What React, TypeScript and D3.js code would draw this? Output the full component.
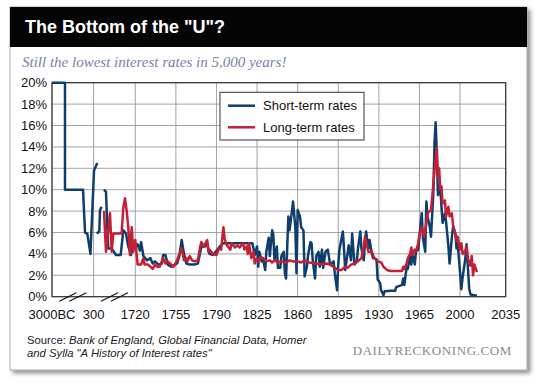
import React, { useEffect, useRef } from 'react';
import * as d3 from 'd3';

// [year, rate %] ; null rate = gap in the line
const shortTermRates: [number, number | null][] = [
  [-3000, 20], [-1970, 20], [-1970, 10], [-540, 10], [-380, 6], [-200, 5.9], [50, 4], [314, 11.8], [426, 12.5], [430, null],
  [405, 5.9], [494, 6.1], [518, 8.1], [576, 8.4], [600, null],
  [654, 10], [722, 9.8], [766, 6.5], [800, 4.5], [916, 4.5], [1063, 3.9], [1223, 3.9], [1311, 6.2], [1403, 5.9],
  [1481, 4.7], [1573, 3.9], [1652, 5], [1712, 5],
  [1720, 4.6], [1722, 4.9], [1724, 4.3], [1725, 5.1], [1727, 3.8], [1730, 3.4], [1733, 3.6], [1735, 3.1], [1737, 3.3],
  [1740, 3.0], [1743, 3.1], [1744, 3.9], [1746, 3.9], [1748, 3.0], [1751, 2.8], [1756, 3.1], [1758, 3.8], [1760, 5.3],
  [1762, 4.0], [1764, 3.1], [1767, 3.0], [1771, 3.0], [1774, 3.1], [1777, 4.7], [1780, 4.7], [1782, 5.0], [1784, 4.0],
  [1787, 3.9], [1790, 4.3], [1793, 4.7], [1796, 5.0], [1821, 5.0], [1823, 3.9], [1825, 4.7], [1826, 2.8], [1827, 4.2],
  [1829, 3.3], [1830, 3.6], [1832, 2.5], [1833, 4.2], [1835, 5.5], [1836, 3.8], [1838, 6.2], [1839, 5.8], [1840, 3.4],
  [1842, 4.7], [1843, 2.7], [1845, 2.7], [1846, 3.8], [1848, 4.2], [1849, 2.2], [1850, 1.7], [1852, 7.5], [1853, 6.2],
  [1855, 7.9], [1856, 8.9], [1858, 6.5], [1859, 2.2], [1860, 8.1], [1862, 7.5], [1863, 6.5], [1865, 6.2], [1866, 1.9],
  [1868, 2.8], [1869, 3.9], [1871, 5.1], [1872, 5.0], [1873, 3.4], [1875, 1.7], [1876, 3.8], [1878, 4.2], [1879, 2.8],
  [1881, 4.4], [1882, 2.7], [1884, 4.2], [1886, 4.4], [1888, 3.0], [1891, 3.3], [1892, 2.2], [1894, 0.6], [1895, 3.0],
  [1896, 4.4], [1899, 6.1], [1900, 4.4], [1901, 2.5], [1903, 4.0], [1904, 4.8], [1906, 3.4], [1907, 5.9], [1909, 3.0],
  [1911, 3.3], [1912, 4.5], [1914, 6.1], [1915, 4.5], [1917, 3.4], [1918, 5.0], [1919, 6.1], [1921, 4.5], [1922, 5.3],
  [1924, 4.0], [1925, 3.6], [1928, 3.5], [1929, 1.6], [1931, 1.3], [1932, 0.6], [1934, 0.15], [1935, 0.5], [1940, 0.55],
  [1944, 0.55], [1945, 0.9], [1950, 1.1], [1951, 1.7], [1952, 1.1], [1954, 2.8], [1955, 2.6], [1957, 3.8], [1958, 3.0],
  [1959, 4.0], [1961, 3.0], [1962, 4.2], [1964, 4.4], [1965, 5.6], [1967, 7.8], [1968, 5.5], [1970, 4.2], [1971, 8.9],
  [1972, 7.5], [1974, 6.5], [1975, 5.6], [1977, 9.7], [1978, 14.3], [1979, 16.3], [1980, 13.1], [1981, 9.5], [1983, 10.3],
  [1984, 8.4], [1985, 6.9], [1987, 7.8], [1988, 7.0], [1990, 4.7], [1991, 3.1], [1993, 5.6], [1994, 6.5], [1996, 5.9],
  [1997, 4.5], [1998, 5.0], [2000, 2.3], [2001, 0.7], [2002, 1.8], [2004, 3.5], [2005, 4.9], [2007, 0.8], [2008, 0.2],
  [2013, 0.1],
];

const longTermRates: [number, number | null][] = [
  [654, 8.0], [722, 4.2], [800, 6.2], [858, 7.8], [916, 4.2], [971, 5.9], [1255, 5.9], [1311, 8.3], [1369, 9.2],
  [1427, 8.0], [1481, 6.5], [1539, 3.9], [1597, 6.5], [1652, 4.2], [1710, 5.0],
  [1720, 5.3], [1722, 3.0], [1725, 3.0], [1727, 3.6], [1728, 3.0], [1731, 3.0], [1733, 2.8], [1735, 2.6], [1737, 3.0],
  [1739, 2.8], [1741, 2.8], [1744, 3.6], [1746, 3.1], [1748, 3.3], [1751, 3.0], [1753, 2.8], [1756, 3.4], [1758, 4.0],
  [1760, 4.5], [1762, 3.4], [1764, 3.6], [1765, 3.3], [1767, 3.8], [1769, 3.4], [1771, 3.3], [1774, 3.4], [1776, 4.7],
  [1777, 5.1], [1779, 4.7], [1782, 5.3], [1783, 4.2], [1784, 4.4], [1787, 4.0], [1790, 3.9], [1792, 4.5], [1794, 4.4],
  [1796, 6.5], [1797, 5.4], [1799, 4.8], [1802, 4.4], [1803, 5.0], [1806, 4.6], [1808, 4.8], [1810, 4.6], [1813, 5.0],
  [1814, 4.4], [1816, 4.7], [1817, 4.0], [1818, 5.0], [1820, 3.6], [1822, 4.2], [1823, 3.1], [1824, 3.5], [1826, 3.3],
  [1828, 3.7], [1830, 3.6], [1833, 3.3], [1836, 3.4], [1838, 3.2], [1840, 3.4], [1843, 3.2], [1846, 3.3], [1850, 3.2],
  [1853, 3.4], [1856, 3.3], [1860, 3.3], [1863, 3.2], [1866, 3.4], [1870, 3.2], [1875, 3.1], [1881, 3.0], [1885, 3.1],
  [1888, 3.0], [1892, 2.7], [1895, 2.5], [1898, 2.5], [1901, 2.8], [1903, 2.7], [1906, 3.0], [1909, 3.1], [1912, 3.3],
  [1915, 3.6], [1917, 4.7], [1918, 5.6], [1919, 5.1], [1921, 4.2], [1924, 4.2], [1926, 3.6], [1929, 3.3], [1932, 3.2],
  [1934, 2.8], [1937, 2.5], [1940, 2.4], [1944, 2.4], [1950, 2.4], [1951, 2.8], [1952, 2.6], [1954, 3.1], [1955, 3.6],
  [1957, 4.0], [1958, 4.6], [1959, 3.9], [1961, 4.4], [1962, 4.2], [1964, 5.0], [1965, 5.8], [1967, 6.5], [1969, 5.6],
  [1971, 6.9], [1972, 7.8], [1974, 8.0], [1975, 8.1], [1977, 10.5], [1978, 11.8], [1980, 13.9], [1981, 11.2],
  [1982, 12.0], [1983, 10.0], [1984, 10.3], [1985, 8.7], [1987, 9.0], [1988, 7.5], [1990, 8.4], [1991, 7.5], [1993, 7.8],
  [1994, 6.7], [1996, 5.9], [1997, 5.2], [1998, 5.6], [2000, 4.4], [2001, 5.0], [2002, 4.0], [2004, 4.3], [2005, 4.7],
  [2006, 3.6], [2008, 2.9], [2009, 3.8], [2010, 2.0], [2011, 3.0], [2013, 2.3],
];

const xTicks = [-3000, 300, 1720, 1755, 1790, 1825, 1860, 1895, 1930, 1965, 2000, 2035];
const xTickLabels = ['3000BC', '300', '1720', '1755', '1790', '1825', '1860', '1895', '1930', '1965', '2000', '2035'];
const yTicks = [0, 2, 4, 6, 8, 10, 12, 14, 16, 18, 20];
const seriesNames = ['Short-term rates', 'Long-term rates'];
const seriesColors = ['#0f3e6c', '#c41f35'];

const SANS = '"Liberation Sans", Arial, sans-serif';
const SERIF = '"Liberation Serif", "Times New Roman", serif';

function App() {
  const ref = useRef<SVGSVGElement>(null);

  useEffect(() => {
    const svg = d3.select(ref.current);
    svg.selectAll('*').remove();

    const left = 52, right = 505.7, top = 82.7, bottom = 296.7;
    const w = right - left;

    // broken axis: two compressed segments, then 35-year steps, last step a bit wider
    const x = d3.scaleLinear()
      .domain([-3000, 300, 1720, 2000, 2035])
      .range([left, left + w * 0.0917, left + w * 0.1836, left + w * 0.8993, right]);
    const y = d3.scaleLinear().domain([0, 20]).range([bottom, top]);

    const defs = svg.append('defs');
    const f = defs.append('filter').attr('id', 'shadow').attr('x', '-5%').attr('y', '-5%').attr('width', '110%').attr('height', '110%');
    f.append('feDropShadow').attr('dx', 3).attr('dy', 3).attr('stdDeviation', 2).attr('flood-color', '#000').attr('flood-opacity', 0.45);

    // card
    svg.append('rect').attr('x', 10).attr('y', 7).attr('width', 517).attr('height', 363)
      .attr('fill', '#fff').attr('stroke', '#9a9a9a').attr('stroke-width', 0.8).attr('filter', 'url(#shadow)');
    svg.append('rect').attr('x', 10).attr('y', 7).attr('width', 517).attr('height', 40).attr('fill', '#050505');

    svg.append('text').attr('x', 25).attr('y', 33).attr('fill', '#fff')
      .style('font-family', SANS).style('font-size', '18px').style('font-weight', 'bold')
      .text('The Bottom of the "U"?');

    svg.append('text').attr('x', 22).attr('y', 67).attr('fill', '#7882a2')
      .style('font-family', SERIF).style('font-size', '15px').style('font-style', 'italic')
      .text('Still the lowest interest rates in 5,000 years!');

    // grid
    const g = svg.append('g');
    g.selectAll('.hg').data(yTicks).enter().append('line')
      .attr('x1', left).attr('x2', right).attr('y1', d => y(d)).attr('y2', d => y(d))
      .attr('stroke', '#999').attr('stroke-width', 0.9);
    g.selectAll('.vg').data(xTicks).enter().append('line')
      .attr('x1', d => x(d)).attr('x2', d => x(d)).attr('y1', top).attr('y2', bottom)
      .attr('stroke', '#999').attr('stroke-width', 0.9);
    g.append('rect').attr('x', left).attr('y', top).attr('width', w).attr('height', bottom - top)
      .attr('fill', 'none').attr('stroke', '#333').attr('stroke-width', 1.2);

    // tick labels
    g.selectAll('.yl').data(yTicks).enter().append('text')
      .attr('x', left - 5).attr('y', d => y(d) + 4.5).attr('text-anchor', 'end')
      .style('font-family', SANS).style('font-size', '13px').attr('fill', '#111')
      .text(d => d + '%');
    g.selectAll('.xl').data(xTicks).enter().append('text')
      .attr('x', d => x(d)).attr('y', bottom + 22).attr('text-anchor', 'middle')
      .style('font-family', SANS).style('font-size', '13px').attr('fill', '#111')
      .text((d, i) => xTickLabels[i]);

    // axis break marks
    [[-3000, 300], [300, 1720]].forEach(([a, b]) => {
      const cx = (x(a) + x(b)) / 2;
      [-5, 5].forEach(off => {
        g.append('line')
          .attr('x1', cx + off - 8.5).attr('y1', bottom + 4.5).attr('x2', cx + off + 8.5).attr('y2', bottom - 4)
          .attr('stroke', '#111').attr('stroke-width', 1.1);
      });
    });

    // series
    const line = d3.line<[number, number | null]>()
      .defined(d => d[1] !== null)
      .x(d => x(d[0]))
      .y(d => y(d[1] as number));

    [shortTermRates, longTermRates].forEach((data, i) => {
      svg.append('path').datum(data)
        .attr('fill', 'none').attr('stroke', seriesColors[i]).attr('stroke-width', 2.5)
        .attr('stroke-linejoin', 'round').attr('d', line);
    });

    // legend
    const lg = svg.append('g');
    lg.append('rect').attr('x', 220).attr('y', 92.3).attr('width', 144).attr('height', 47.7)
      .attr('fill', '#fff').attr('stroke', '#333').attr('stroke-width', 1);
    seriesNames.forEach((name, i) => {
      const ly = 105.7 + i * 21.6;
      lg.append('line').attr('x1', 228).attr('x2', 255).attr('y1', ly).attr('y2', ly)
        .attr('stroke', seriesColors[i]).attr('stroke-width', 2.5);
      lg.append('text').attr('x', 263).attr('y', ly + 4.6)
        .style('font-family', SANS).style('font-size', '13px').attr('fill', '#111').text(name);
    });

    // footer
    const src = svg.append('text').attr('x', 27).attr('y', 344)
      .style('font-family', SANS).style('font-size', '11.3px').attr('fill', '#222');
    src.append('tspan').text('Source: ');
    src.append('tspan').style('font-style', 'italic').text('Bank of England, Global Financial Data, Homer');
    svg.append('text').attr('x', 27).attr('y', 356.5)
      .style('font-family', SANS).style('font-size', '11.3px').style('font-style', 'italic').attr('fill', '#222')
      .text('and Sylla "A History of Interest rates"');

    svg.append('text').attr('x', 512).attr('y', 355).attr('text-anchor', 'end')
      .style('font-family', SERIF).style('font-size', '13px').style('letter-spacing', '0.6px').attr('fill', '#8a8a8a')
      .text('DAILYRECKONING.COM');
  }, []);

  return (
    <svg ref={ref} width="540" height="391" style={{ position: 'absolute', left: 0, top: 0, background: '#fff' }}></svg>
  );
}

export default App;
